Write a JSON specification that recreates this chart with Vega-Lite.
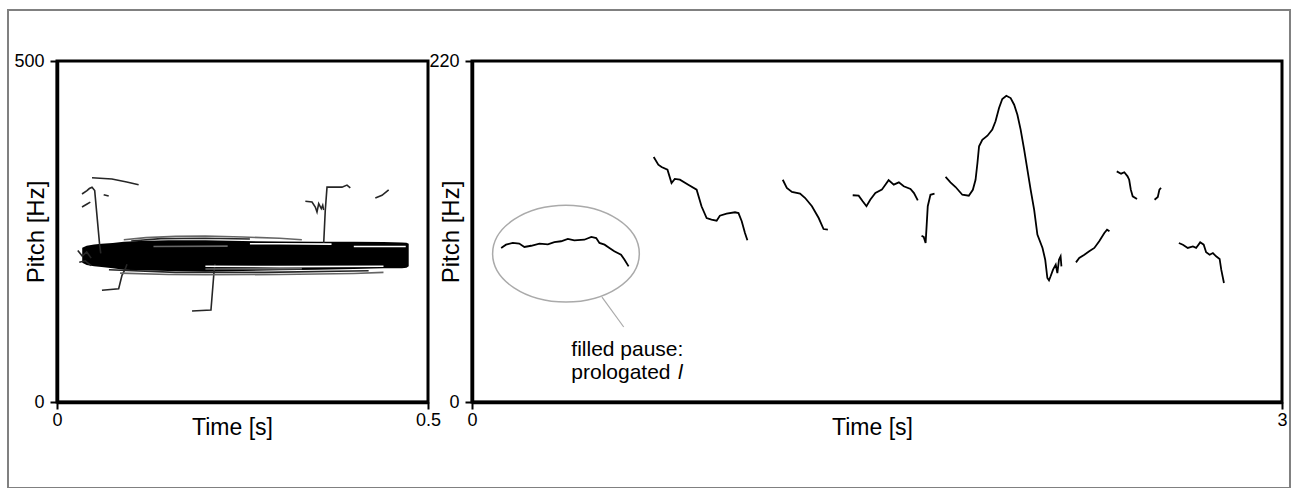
{
  "$schema": "https://vega.github.io/schema/vega-lite/v6.json",
  "background": "white",
  "padding": {"left": 5, "top": 7, "right": 0, "bottom": 0},
  "autosize": {"type": "pad"},
  "bounds": "flush",
  "spacing": 44,
  "config": {
    "font": "Liberation Sans",
    "view": {"stroke": "black", "strokeWidth": 3},
    "axis": {
      "grid": false,
      "domainColor": "black",
      "domainWidth": 3.5,
      "tickColor": "black",
      "tickWidth": 2,
      "tickSize": 7,
      "labelFont": "Liberation Sans",
      "labelFontSize": 18,
      "labelColor": "black",
      "labelFlush": false,
      "titleFont": "Liberation Sans",
      "titleFontSize": 24,
      "titleFontWeight": "normal",
      "titleColor": "black"
    }
  },
  "datasets": {
    "band": [
      {"t": 0.034, "lo": 204, "hi": 226},
      {"t": 0.04, "lo": 201, "hi": 229},
      {"t": 0.05, "lo": 199, "hi": 231},
      {"t": 0.06, "lo": 198, "hi": 232},
      {"t": 0.075, "lo": 196, "hi": 233},
      {"t": 0.09, "lo": 194, "hi": 235},
      {"t": 0.11, "lo": 193, "hi": 236},
      {"t": 0.15, "lo": 192, "hi": 237},
      {"t": 0.2, "lo": 191, "hi": 237},
      {"t": 0.25, "lo": 192, "hi": 236},
      {"t": 0.3, "lo": 193, "hi": 235.5},
      {"t": 0.35, "lo": 194, "hi": 235},
      {"t": 0.4, "lo": 195, "hi": 235},
      {"t": 0.44, "lo": 196, "hi": 234.5},
      {"t": 0.465, "lo": 196, "hi": 234},
      {"t": 0.471, "lo": 197, "hi": 233.5},
      {"t": 0.474, "lo": 199, "hi": 232}
    ],
    "left": [
      {"seg": "s1", "kind": "stray", "t": 0.0472, "hz": 328.9},
      {"seg": "s1", "kind": "stray", "t": 0.074, "hz": 327},
      {"seg": "s1", "kind": "stray", "t": 0.094, "hz": 322.6},
      {"seg": "s1", "kind": "stray", "t": 0.11, "hz": 318.6},
      {"seg": "s2", "kind": "stray", "t": 0.0337, "hz": 305},
      {"seg": "s2", "kind": "stray", "t": 0.0404, "hz": 310},
      {"seg": "s2", "kind": "stray", "t": 0.0436, "hz": 313},
      {"seg": "s2", "kind": "stray", "t": 0.0472, "hz": 315},
      {"seg": "s2", "kind": "stray", "t": 0.0508, "hz": 310},
      {"seg": "s2", "kind": "stray", "t": 0.0575, "hz": 230},
      {"seg": "s2", "kind": "stray", "t": 0.059, "hz": 218},
      {"seg": "s3", "kind": "stray", "t": 0.0337, "hz": 286},
      {"seg": "s3", "kind": "stray", "t": 0.04, "hz": 290},
      {"seg": "s3", "kind": "stray", "t": 0.0449, "hz": 293},
      {"seg": "s4", "kind": "stray", "t": 0.0629, "hz": 304},
      {"seg": "s4", "kind": "stray", "t": 0.0697, "hz": 302},
      {"seg": "s5", "kind": "stray", "t": 0.0606, "hz": 163.8},
      {"seg": "s5", "kind": "stray", "t": 0.0831, "hz": 166.1},
      {"seg": "s5", "kind": "stray", "t": 0.0876, "hz": 185.8},
      {"seg": "s5", "kind": "stray", "t": 0.0921, "hz": 195.5},
      {"seg": "s5", "kind": "stray", "t": 0.0943, "hz": 202},
      {"seg": "s6", "kind": "stray", "t": 0.182, "hz": 133.4},
      {"seg": "s6", "kind": "stray", "t": 0.2075, "hz": 134.9},
      {"seg": "s6", "kind": "stray", "t": 0.2116, "hz": 190.6},
      {"seg": "s6", "kind": "stray", "t": 0.2129, "hz": 202.3},
      {"seg": "s7", "kind": "stray", "t": 0.3347, "hz": 294.3},
      {"seg": "s7", "kind": "stray", "t": 0.3437, "hz": 293.3},
      {"seg": "s7", "kind": "stray", "t": 0.3481, "hz": 285.9},
      {"seg": "s7", "kind": "stray", "t": 0.3504, "hz": 278.6},
      {"seg": "s7", "kind": "stray", "t": 0.3527, "hz": 290.8},
      {"seg": "s7", "kind": "stray", "t": 0.3562, "hz": 283.4},
      {"seg": "s7", "kind": "stray", "t": 0.3581, "hz": 288.4},
      {"seg": "s7", "kind": "stray", "t": 0.3594, "hz": 281.5},
      {"seg": "s8", "kind": "stray", "t": 0.3594, "hz": 232},
      {"seg": "s8", "kind": "stray", "t": 0.3615, "hz": 280},
      {"seg": "s8", "kind": "stray", "t": 0.3639, "hz": 315},
      {"seg": "s8", "kind": "stray", "t": 0.3841, "hz": 315},
      {"seg": "s8", "kind": "stray", "t": 0.3908, "hz": 318},
      {"seg": "s8", "kind": "stray", "t": 0.3953, "hz": 314},
      {"seg": "s9", "kind": "stray", "t": 0.429, "hz": 299},
      {"seg": "s9", "kind": "stray", "t": 0.438, "hz": 303},
      {"seg": "s9", "kind": "stray", "t": 0.447, "hz": 311},
      {"seg": "u1", "kind": "outline", "t": 0.09, "hz": 238},
      {"seg": "u1", "kind": "outline", "t": 0.12, "hz": 241},
      {"seg": "u1", "kind": "outline", "t": 0.16, "hz": 243},
      {"seg": "u1", "kind": "outline", "t": 0.2, "hz": 243.5},
      {"seg": "u1", "kind": "outline", "t": 0.25, "hz": 242},
      {"seg": "u1", "kind": "outline", "t": 0.3, "hz": 240},
      {"seg": "u1", "kind": "outline", "t": 0.33, "hz": 238},
      {"seg": "u2", "kind": "stray", "t": 0.1, "hz": 236},
      {"seg": "u2", "kind": "stray", "t": 0.14, "hz": 239.5},
      {"seg": "u2", "kind": "stray", "t": 0.2, "hz": 240},
      {"seg": "u2", "kind": "stray", "t": 0.26, "hz": 239},
      {"seg": "l1", "kind": "outline", "t": 0.085, "hz": 189},
      {"seg": "l1", "kind": "outline", "t": 0.15, "hz": 187},
      {"seg": "l1", "kind": "outline", "t": 0.2, "hz": 186.5},
      {"seg": "l1", "kind": "outline", "t": 0.3, "hz": 187},
      {"seg": "l1", "kind": "outline", "t": 0.4, "hz": 188.5},
      {"seg": "l1", "kind": "outline", "t": 0.44, "hz": 190},
      {"seg": "l2", "kind": "stray", "t": 0.07, "hz": 194},
      {"seg": "l2", "kind": "stray", "t": 0.16, "hz": 190},
      {"seg": "l2", "kind": "stray", "t": 0.28, "hz": 190},
      {"seg": "l2", "kind": "stray", "t": 0.42, "hz": 192.5},
      {"seg": "e1", "kind": "stray", "t": 0.028, "hz": 222},
      {"seg": "e1", "kind": "stray", "t": 0.034, "hz": 214},
      {"seg": "e1", "kind": "stray", "t": 0.04, "hz": 220},
      {"seg": "e1", "kind": "stray", "t": 0.046, "hz": 211},
      {"seg": "e2", "kind": "stray", "t": 0.03, "hz": 205},
      {"seg": "e2", "kind": "stray", "t": 0.038, "hz": 207},
      {"seg": "e2", "kind": "stray", "t": 0.046, "hz": 200},
      {"seg": "g4", "kind": "outline", "t": 0.13, "hz": 228},
      {"seg": "g4", "kind": "outline", "t": 0.23, "hz": 228.5},
      {"seg": "g5", "kind": "outline", "t": 0.2, "hz": 195},
      {"seg": "g5", "kind": "outline", "t": 0.33, "hz": 195.5},
      {"seg": "g1", "kind": "gap", "t": 0.26, "hz": 232},
      {"seg": "g1", "kind": "gap", "t": 0.3, "hz": 232},
      {"seg": "g1", "kind": "gap", "t": 0.37, "hz": 231.5},
      {"seg": "g2", "kind": "gap", "t": 0.2, "hz": 199},
      {"seg": "g2", "kind": "gap", "t": 0.3, "hz": 198.5},
      {"seg": "g2", "kind": "gap", "t": 0.44, "hz": 199},
      {"seg": "g3", "kind": "gap", "t": 0.4, "hz": 228},
      {"seg": "g3", "kind": "gap", "t": 0.47, "hz": 228}
    ],
    "right": [
      {"seg": "A", "t": 0.108, "hz": 99.4}, {"seg": "A", "t": 0.126, "hz": 101.5}, {"seg": "A", "t": 0.151, "hz": 102.6}, {"seg": "A", "t": 0.175, "hz": 102.2}, {"seg": "A", "t": 0.194, "hz": 100}, {"seg": "A", "t": 0.219, "hz": 100.8}, {"seg": "A", "t": 0.25, "hz": 102.2}, {"seg": "A", "t": 0.281, "hz": 101.7}, {"seg": "A", "t": 0.305, "hz": 103.2}, {"seg": "A", "t": 0.33, "hz": 103.7}, {"seg": "A", "t": 0.355, "hz": 105.2}, {"seg": "A", "t": 0.379, "hz": 104.3}, {"seg": "A", "t": 0.416, "hz": 104.7}, {"seg": "A", "t": 0.442, "hz": 106.5}, {"seg": "A", "t": 0.46, "hz": 105.8}, {"seg": "A", "t": 0.472, "hz": 102.6}, {"seg": "A", "t": 0.491, "hz": 101.5}, {"seg": "A", "t": 0.509, "hz": 99.4}, {"seg": "A", "t": 0.527, "hz": 97.2}, {"seg": "A", "t": 0.552, "hz": 95}, {"seg": "A", "t": 0.565, "hz": 91.8}, {"seg": "A", "t": 0.58, "hz": 87.5},
      {"seg": "B", "t": 0.673, "hz": 158.1}, {"seg": "B", "t": 0.69, "hz": 153.1}, {"seg": "B", "t": 0.702, "hz": 151.6}, {"seg": "B", "t": 0.724, "hz": 149.9}, {"seg": "B", "t": 0.739, "hz": 141.3}, {"seg": "B", "t": 0.751, "hz": 143.9}, {"seg": "B", "t": 0.77, "hz": 143.4}, {"seg": "B", "t": 0.801, "hz": 140.2}, {"seg": "B", "t": 0.832, "hz": 137}, {"seg": "B", "t": 0.85, "hz": 126.3}, {"seg": "B", "t": 0.869, "hz": 118.7}, {"seg": "B", "t": 0.887, "hz": 117.6}, {"seg": "B", "t": 0.906, "hz": 117}, {"seg": "B", "t": 0.918, "hz": 120.2}, {"seg": "B", "t": 0.943, "hz": 121.5}, {"seg": "B", "t": 0.974, "hz": 122.4}, {"seg": "B", "t": 0.987, "hz": 121.9}, {"seg": "B", "t": 0.999, "hz": 116.6}, {"seg": "B", "t": 1.011, "hz": 109}, {"seg": "B", "t": 1.02, "hz": 104.3},
      {"seg": "C", "t": 1.151, "hz": 143.4}, {"seg": "C", "t": 1.166, "hz": 138.1}, {"seg": "C", "t": 1.185, "hz": 135.5}, {"seg": "C", "t": 1.215, "hz": 134.4}, {"seg": "C", "t": 1.234, "hz": 131.6}, {"seg": "C", "t": 1.259, "hz": 126.3}, {"seg": "C", "t": 1.284, "hz": 118.7}, {"seg": "C", "t": 1.302, "hz": 111.6}, {"seg": "C", "t": 1.318, "hz": 111.2},
      {"seg": "D", "t": 1.41, "hz": 133.4}, {"seg": "D", "t": 1.432, "hz": 133.1}, {"seg": "D", "t": 1.447, "hz": 129.5}, {"seg": "D", "t": 1.461, "hz": 126.3}, {"seg": "D", "t": 1.475, "hz": 130.5}, {"seg": "D", "t": 1.494, "hz": 134.8}, {"seg": "D", "t": 1.518, "hz": 137}, {"seg": "D", "t": 1.543, "hz": 143.1}, {"seg": "D", "t": 1.562, "hz": 140.2}, {"seg": "D", "t": 1.581, "hz": 141.7}, {"seg": "D", "t": 1.599, "hz": 139.2}, {"seg": "D", "t": 1.624, "hz": 137.4}, {"seg": "D", "t": 1.637, "hz": 134.8}, {"seg": "D", "t": 1.651, "hz": 130.1},
      {"seg": "E", "t": 1.665, "hz": 107.3}, {"seg": "E", "t": 1.673, "hz": 106.5}, {"seg": "E", "t": 1.68, "hz": 102.6}, {"seg": "E", "t": 1.683, "hz": 111.2}, {"seg": "E", "t": 1.688, "hz": 126.3}, {"seg": "E", "t": 1.698, "hz": 133.7}, {"seg": "E", "t": 1.713, "hz": 134.4},
      {"seg": "F", "t": 1.754, "hz": 145.2}, {"seg": "F", "t": 1.772, "hz": 141.7}, {"seg": "F", "t": 1.791, "hz": 138.7}, {"seg": "F", "t": 1.816, "hz": 133.7}, {"seg": "F", "t": 1.84, "hz": 133.1}, {"seg": "F", "t": 1.855, "hz": 136.9}, {"seg": "F", "t": 1.865, "hz": 143.4}, {"seg": "F", "t": 1.872, "hz": 154.2}, {"seg": "F", "t": 1.878, "hz": 165}, {"seg": "F", "t": 1.89, "hz": 169.2}, {"seg": "F", "t": 1.909, "hz": 171.8}, {"seg": "F", "t": 1.927, "hz": 175.7}, {"seg": "F", "t": 1.939, "hz": 181.1}, {"seg": "F", "t": 1.952, "hz": 189.7}, {"seg": "F", "t": 1.964, "hz": 195.5}, {"seg": "F", "t": 1.979, "hz": 197.6}, {"seg": "F", "t": 1.995, "hz": 196.1}, {"seg": "F", "t": 2.008, "hz": 191.8}, {"seg": "F", "t": 2.02, "hz": 185.3}, {"seg": "F", "t": 2.032, "hz": 175.7}, {"seg": "F", "t": 2.045, "hz": 162.8}, {"seg": "F", "t": 2.057, "hz": 149.9}, {"seg": "F", "t": 2.069, "hz": 137}, {"seg": "F", "t": 2.082, "hz": 124.1}, {"seg": "F", "t": 2.094, "hz": 108}, {"seg": "F", "t": 2.113, "hz": 99.4}, {"seg": "F", "t": 2.123, "hz": 91.8}, {"seg": "F", "t": 2.131, "hz": 80}, {"seg": "F", "t": 2.137, "hz": 78.5}, {"seg": "F", "t": 2.143, "hz": 81.1}, {"seg": "F", "t": 2.152, "hz": 85.4}, {"seg": "F", "t": 2.162, "hz": 88.6}, {"seg": "F", "t": 2.168, "hz": 83.2}, {"seg": "F", "t": 2.174, "hz": 91.8}, {"seg": "F", "t": 2.18, "hz": 94}, {"seg": "F", "t": 2.183, "hz": 87.5},
      {"seg": "G", "t": 2.237, "hz": 90.1}, {"seg": "G", "t": 2.249, "hz": 92.9}, {"seg": "G", "t": 2.268, "hz": 95}, {"seg": "G", "t": 2.286, "hz": 97.2}, {"seg": "G", "t": 2.305, "hz": 99.4}, {"seg": "G", "t": 2.323, "hz": 103.7}, {"seg": "G", "t": 2.342, "hz": 109}, {"seg": "G", "t": 2.352, "hz": 111.2}, {"seg": "G", "t": 2.361, "hz": 110.1},
      {"seg": "H", "t": 2.388, "hz": 148.8}, {"seg": "H", "t": 2.404, "hz": 147.3}, {"seg": "H", "t": 2.416, "hz": 148.2}, {"seg": "H", "t": 2.428, "hz": 145.6}, {"seg": "H", "t": 2.434, "hz": 143.4}, {"seg": "H", "t": 2.44, "hz": 137}, {"seg": "H", "t": 2.447, "hz": 132.7}, {"seg": "H", "t": 2.463, "hz": 131},
      {"seg": "I", "t": 2.528, "hz": 130.5}, {"seg": "I", "t": 2.54, "hz": 132.3}, {"seg": "I", "t": 2.546, "hz": 137}, {"seg": "I", "t": 2.552, "hz": 138.1},
      {"seg": "J", "t": 2.618, "hz": 102.6}, {"seg": "J", "t": 2.633, "hz": 101.5}, {"seg": "J", "t": 2.651, "hz": 99.4}, {"seg": "J", "t": 2.67, "hz": 100.4}, {"seg": "J", "t": 2.682, "hz": 99.4}, {"seg": "J", "t": 2.697, "hz": 103}, {"seg": "J", "t": 2.71, "hz": 101.5}, {"seg": "J", "t": 2.719, "hz": 96.6}, {"seg": "J", "t": 2.732, "hz": 95}, {"seg": "J", "t": 2.744, "hz": 96.1}, {"seg": "J", "t": 2.756, "hz": 94}, {"seg": "J", "t": 2.769, "hz": 92.3}, {"seg": "J", "t": 2.775, "hz": 85.4}, {"seg": "J", "t": 2.785, "hz": 76.8}
    ],
    "ellipse": [{"t": 0.348, "hz": 95.7}],
    "pointer": [{"t": 0.4815, "hz": 67.7, "t2": 0.5619, "hz2": 48.4}],
    "labels": [
      {"t": 0.3678, "hz": 29.5, "text": "filled pause:"},
      {"t": 0.3678, "hz": 15.0, "text": "prologated"}
    ],
    "italic": [{"t": 0.763, "hz": 15.0, "text": "l"}]
  },
  "hconcat": [
    {
      "width": 371,
      "height": 341,
      "layer": [
        {
          "data": {"name": "band"},
          "mark": {"type": "area", "color": "black"},
          "encoding": {
            "x": {
              "field": "t", "type": "quantitative",
              "scale": {"domain": [0, 0.5], "nice": false, "zero": false},
              "axis": {"values": [0, 0.5], "labelExpr": "'' + datum.value", "labelFontSize": 18, "labelPadding": 2, "title": "Time [s]", "titleX": 175, "titleY": 32, "titleBaseline": "alphabetic", "titleAlign": "center", "titleFontSize": 23}
            },
            "y": {
              "field": "hi", "type": "quantitative",
              "scale": {"domain": [0, 500], "nice": false},
              "axis": {"values": [0, 500], "labelFontSize": 18, "labelPadding": 6, "title": "Pitch [Hz]", "titleX": -20.5, "titleY": 170.5, "titleAngle": 270, "titleBaseline": "middle", "titleAlign": "center"}
            },
            "y2": {"field": "lo"}
          }
        },
        {
          "data": {"name": "left"},
          "mark": {"type": "line", "strokeWidth": 1.6},
          "encoding": {
            "x": {"field": "t", "type": "quantitative"},
            "y": {"field": "hz", "type": "quantitative"},
            "detail": {"field": "seg"},
            "color": {"field": "kind", "type": "nominal", "scale": {"domain": ["stray", "outline", "gap"], "range": ["#262626", "#666666", "#ffffff"]}, "legend": null}
          }
        }
      ]
    },
    {
      "width": 810,
      "height": 341,
      "layer": [
        {
          "data": {"values": [{}]},
          "mark": {"type": "rect", "filled": false, "stroke": "#808080", "strokeWidth": 2},
          "encoding": {
            "x": {"datum": -1.7185, "type": "quantitative", "scale": {"domain": [0, 3], "nice": false, "zero": false},
              "axis": {"values": [0, 3], "labelExpr": "'' + datum.value", "labelFontSize": 18, "labelPadding": 2, "title": "Time [s]", "titleX": 400, "titleY": 32, "titleBaseline": "alphabetic", "titleAlign": "center", "titleFontSize": 23}},
            "x2": {"datum": 3.0296},
            "y": {"datum": 252.9, "type": "quantitative", "scale": {"domain": [0, 220], "nice": false},
              "axis": {"values": [0, 220], "labelFontSize": 18, "labelPadding": 6, "title": "Pitch [Hz]", "titleX": -20.5, "titleY": 170.5, "titleAngle": 270, "titleBaseline": "middle", "titleAlign": "center"}},
            "y2": {"datum": -55.5}
          }
        },
        {
          "data": {"name": "right"},
          "mark": {"type": "line", "color": "black", "strokeWidth": 1.8},
          "encoding": {
            "x": {"field": "t", "type": "quantitative"},
            "y": {"field": "hz", "type": "quantitative"},
            "detail": {"field": "seg"}
          }
        },
        {
          "data": {"name": "ellipse"},
          "mark": {"type": "point", "filled": false, "stroke": "#aaaaaa", "strokeWidth": 1.5, "opacity": 1, "size": 21520,
            "shape": "M -1 0 C -1 -0.364 -0.5523 -0.659 0 -0.659 C 0.5523 -0.659 1 -0.364 1 0 C 1 0.364 0.5523 0.659 0 0.659 C -0.5523 0.659 -1 0.364 -1 0 Z"},
          "encoding": {
            "x": {"field": "t", "type": "quantitative"},
            "y": {"field": "hz", "type": "quantitative"}
          }
        },
        {
          "data": {"name": "pointer"},
          "mark": {"type": "rule", "color": "#aaaaaa", "strokeWidth": 1.2},
          "encoding": {
            "x": {"field": "t", "type": "quantitative"},
            "y": {"field": "hz", "type": "quantitative"},
            "x2": {"field": "t2"},
            "y2": {"field": "hz2"}
          }
        },
        {
          "data": {"name": "labels"},
          "mark": {"type": "text", "align": "left", "baseline": "alphabetic", "fontSize": 21, "color": "black"},
          "encoding": {
            "x": {"field": "t", "type": "quantitative"},
            "y": {"field": "hz", "type": "quantitative"},
            "text": {"field": "text"}
          }
        },
        {
          "data": {"name": "italic"},
          "mark": {"type": "text", "align": "left", "baseline": "alphabetic", "fontSize": 21, "fontStyle": "italic", "color": "black"},
          "encoding": {
            "x": {"field": "t", "type": "quantitative"},
            "y": {"field": "hz", "type": "quantitative"},
            "text": {"field": "text"}
          }
        }
      ]
    }
  ]
}
